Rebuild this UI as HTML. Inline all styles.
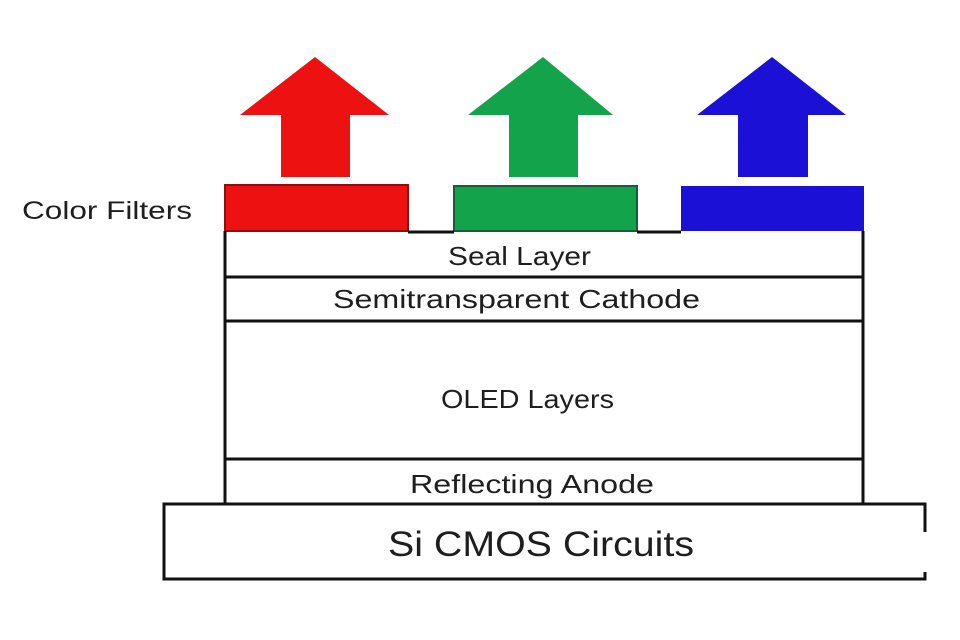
<!DOCTYPE html>
<html><head><meta charset="utf-8"><style>
html,body{margin:0;padding:0;background:#fff;width:960px;height:640px;overflow:hidden}
svg{display:block}
text{font-family:"Liberation Sans",sans-serif;fill:#1e1e1e}
</style></head><body>
<svg width="960" height="640" viewBox="0 0 960 640" xmlns="http://www.w3.org/2000/svg">
<rect width="960" height="640" fill="#fff"/>
<!-- arrows -->
<polygon points="315,57 389,115 350,115 350,177 281,177 281,115 240,115" fill="#ee1111"/>
<polygon points="543,57 613,115 578,115 578,177 509,177 509,115 468,115" fill="#13a34a"/>
<polygon points="772,57 846,115 808,115 808,177 738,177 738,115 697,115" fill="#1a10d6"/>
<!-- filters -->
<rect x="225" y="185" width="183" height="46" fill="#ee1111" stroke="#8a1010" stroke-width="2"/>
<rect x="454" y="186" width="183" height="45" fill="#13a34a" stroke="#1b5a3a" stroke-width="2"/>
<rect x="681" y="186" width="183" height="45" fill="#1a10d6"/>
<!-- stack -->
<g stroke="#111" stroke-width="3" fill="none">
<line x1="408" y1="232" x2="454" y2="232"/>
<line x1="637" y1="232" x2="681" y2="232"/>
<line x1="225" y1="231" x2="225" y2="503"/>
<line x1="863" y1="231" x2="863" y2="503"/>
<line x1="225" y1="277" x2="863" y2="277"/>
<line x1="225" y1="321" x2="863" y2="321"/>
<line x1="225" y1="459" x2="863" y2="459"/>
<rect x="164" y="504" width="761" height="75"/>
</g>
<rect x="860" y="532" width="67" height="40" fill="#fff"/>
<text x="22" y="219" font-size="25" textLength="170" lengthAdjust="spacingAndGlyphs">Color Filters</text>
<text x="448" y="265" font-size="26" textLength="143" lengthAdjust="spacingAndGlyphs">Seal Layer</text>
<text x="333" y="308" font-size="26" textLength="367" lengthAdjust="spacingAndGlyphs">Semitransparent Cathode</text>
<text x="441" y="408" font-size="26" textLength="173" lengthAdjust="spacingAndGlyphs">OLED Layers</text>
<text x="410" y="493" font-size="26" textLength="244" lengthAdjust="spacingAndGlyphs">Reflecting Anode</text>
<text x="388" y="556" font-size="35" textLength="306" lengthAdjust="spacingAndGlyphs">Si CMOS Circuits</text>
</svg>
</body></html>
